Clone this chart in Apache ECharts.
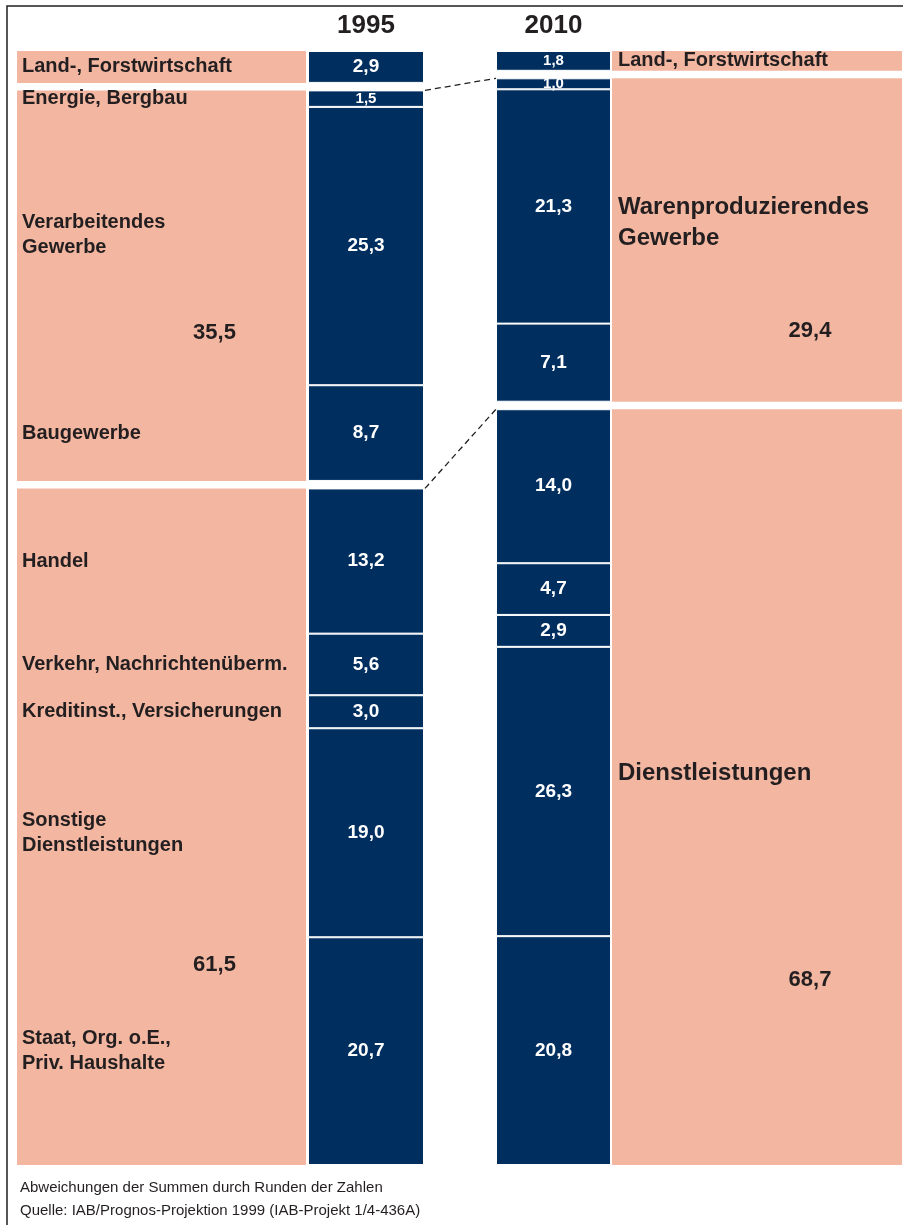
<!DOCTYPE html>
<html>
<head>
<meta charset="utf-8">
<script src="https://cdn.jsdelivr.net/npm/echarts@6/dist/echarts.min.js"></script>
<style>
html,body{margin:0;padding:0;background:#fff}
#chart{width:903px;height:1225px}
</style>
</head>
<body>
<div id="chart"></div>
<script>
// ---------------- DATA ----------------
const years = ['1995', '2010'];
const sectors = [
  'Land-, Forstwirtschaft',
  'Energie, Bergbau',
  'Verarbeitendes\nGewerbe',
  'Baugewerbe',
  'Handel',
  'Verkehr, Nachrichtenüberm.',
  'Kreditinst., Versicherungen',
  'Sonstige\nDienstleistungen',
  'Staat, Org. o.E.,\nPriv. Haushalte'
];
const sectorGroup = [0, 1, 1, 1, 2, 2, 2, 2, 2];
const values1995 = [2.9, 1.5, 25.3, 8.7, 13.2, 5.6, 3.0, 19.0, 20.7];
const values2010 = [1.8, 1.0, 21.3, 7.1, 14.0, 4.7, 2.9, 26.3, 20.8];
const groupNames2010 = ['Land-, Forstwirtschaft', 'Warenproduzierendes\nGewerbe', 'Dienstleistungen'];
const groupTotals1995 = [2.9, 35.5, 61.5];
const groupTotals2010 = [1.8, 29.4, 68.7];
const footnotes = [
  'Abweichungen der Summen durch Runden der Zahlen',
  'Quelle: IAB/Prognos-Projektion 1999 (IAB-Projekt 1/4-436A)'
];

// ---------------- LAYOUT / STYLE ----------------
const GAP = 0.68;
const TOP = 51, HEIGHT = 1114;
const cols = [
  {left: 17, width: 289},
  {left: 308, width: 116},
  {left: 496, width: 115},
  {left: 612, width: 290}
];
const NAVY = '#002e5f';
const SALMON = '#f3b6a1';
const INK = '#231f20';
const FONT = "'Liberation Sans', Arial, Helvetica, sans-serif";
const leftLabelOffsetY = {2: -11};
const rightLabelOffsetY = {1: -17, 2: -14};
const totalFrac1995 = [null, 0.62, 0.705];
const totalFrac2010 = [null, 0.78, 0.755];

const fmt = v => v.toFixed(1).replace('.', ',');
const sum = a => a.reduce((s, v) => s + v, 0);
const yMax = Math.max(sum(values1995), sum(values2010)) + 2 * GAP;

function buildStack(values, groups) {
  const items = [];
  values.forEach((v, i) => {
    if (i > 0 && groups[i] !== groups[i - 1]) items.push({gap: true, value: GAP});
    items.push({gap: false, value: v, idx: i});
  });
  return items;
}
function groupStarts(totals) {
  const starts = [];
  let acc = 0;
  totals.forEach((t, i) => { if (i > 0) acc += GAP; starts.push(acc); acc += t; });
  return starts;
}

const grids = cols.map(c => ({left: c.left, width: c.width, top: TOP, height: HEIGHT, containLabel: false}));
const xAxes = cols.map((c, g) => ({
  type: 'category', gridIndex: g, position: 'top',
  data: [g === 1 ? years[0] : g === 2 ? years[1] : ''],
  axisLine: {show: false}, axisTick: {show: false}, splitLine: {show: false},
  axisLabel: {show: g === 1 || g === 2, fontSize: 26, fontWeight: 'bold', color: INK, fontFamily: FONT, margin: 12}
}));
const yAxes = cols.map((c, g) => ({
  type: 'value', gridIndex: g, inverse: true, min: 0, max: yMax, show: false,
  splitLine: {show: false}
}));

const series = [];
function pushStack(g, stackName, items, styleFn) {
  items.forEach(it => {
    const s = {
      type: 'bar', xAxisIndex: g, yAxisIndex: g, stack: stackName,
      barWidth: '100%', barGap: '-100%', barCategoryGap: 0, data: [it.value],
      animation: false
    };
    if (it.gap) {
      s.itemStyle = {color: 'rgba(0,0,0,0)'};
      s.label = {show: false};
      s.silent = true;
    } else {
      Object.assign(s, styleFn(it));
    }
    series.push(s);
  });
}

// grid 0: left salmon panel – group blocks (1995) ...
pushStack(0, 'grp0', buildStack(groupTotals1995, [0, 1, 2]), it => ({
  itemStyle: {color: SALMON},
  label: {show: false}
}));
// ... with the sector names on an overlaid transparent stack
pushStack(0, 'sec0', buildStack(values1995, sectorGroup), it => ({
  itemStyle: {color: 'rgba(0,0,0,0)'},
  label: {
    show: true, position: 'insideLeft', distance: 5,
    offset: [0, leftLabelOffsetY[it.idx] || 0],
    formatter: () => sectors[it.idx],
    color: INK, fontSize: 20, fontWeight: 'bold', lineHeight: 25, fontFamily: FONT
  },
  z: 3
}));
// grids 1,2: navy bars
[values1995, values2010].forEach((vals, y) => {
  pushStack(y + 1, 'st' + (y + 1), buildStack(vals, sectorGroup), it => ({
    itemStyle: {color: NAVY, borderColor: '#ffffff', borderWidth: 1},
    label: {
      show: true, position: 'inside', formatter: () => fmt(it.value),
      color: '#ffffff', fontWeight: 'bold', fontSize: it.value < 2 ? 15 : 19, fontFamily: FONT
    }
  }));
});
// grid 3: right salmon panel, one segment per group (2010)
pushStack(3, 'grp3', buildStack(groupTotals2010, [0, 1, 2]), it => ({
  itemStyle: {color: SALMON},
  label: {
    show: true, position: 'insideLeft', distance: 6,
    offset: [0, rightLabelOffsetY[it.idx] || 0],
    formatter: () => groupNames2010[it.idx],
    color: INK, fontSize: it.idx === 0 ? 20 : 24, fontWeight: 'bold',
    lineHeight: it.idx === 0 ? 22 : 31, fontFamily: FONT
  }
}));
// group totals as labels placed via the value axes
[[0, groupTotals1995, totalFrac1995], [3, groupTotals2010, totalFrac2010]].forEach(([g, totals, fracs]) => {
  const starts = groupStarts(totals);
  const data = [];
  totals.forEach((t, i) => {
    if (fracs[i] == null) return;
    data.push({value: [0, starts[i] + fracs[i] * t], name: fmt(t)});
  });
  series.push({
    type: 'scatter', xAxisIndex: g, yAxisIndex: g, symbolSize: 1,
    itemStyle: {color: 'rgba(0,0,0,0)', opacity: 1}, animation: false, silent: true,
    data: data,
    label: {
      show: true, position: 'inside', offset: [53, 0], formatter: p => p.name,
      color: INK, fontSize: 22, fontWeight: 'bold', fontFamily: FONT, opacity: 1
    },
    z: 5
  });
});

const chart = echarts.init(document.getElementById('chart'), null, {renderer: 'canvas'});
chart.setOption({
  animation: false,
  backgroundColor: '#ffffff',
  grid: grids, xAxis: xAxes, yAxis: yAxes, series: series
});

const s95 = groupStarts(groupTotals1995);
const s10 = groupStarts(groupTotals2010);
const graphics = [
  {type: 'rect', shape: {x: 7, y: 6, width: 1000, height: 1400}, style: {fill: null, stroke: INK, lineWidth: 1.5}, z: 100, silent: true}
];
[1, 2].forEach(i => {
  const y1 = chart.convertToPixel({yAxisIndex: 1}, s95[i]);
  const y2 = chart.convertToPixel({yAxisIndex: 2}, s10[i]);
  graphics.push({
    type: 'line', z: 100,
    shape: {x1: cols[1].left + cols[1].width + 1, y1: y1, x2: cols[2].left, y2: y2},
    style: {stroke: INK, lineWidth: 1.3, lineDash: [6, 4]}
  });
});
footnotes.forEach((t, i) => {
  graphics.push({
    type: 'text', left: 20, top: 1180 + i * 23, z: 100,
    style: {text: t, font: '15px ' + FONT, fill: INK}
  });
});
chart.setOption({graphic: graphics});
</script>
</body>
</html>
